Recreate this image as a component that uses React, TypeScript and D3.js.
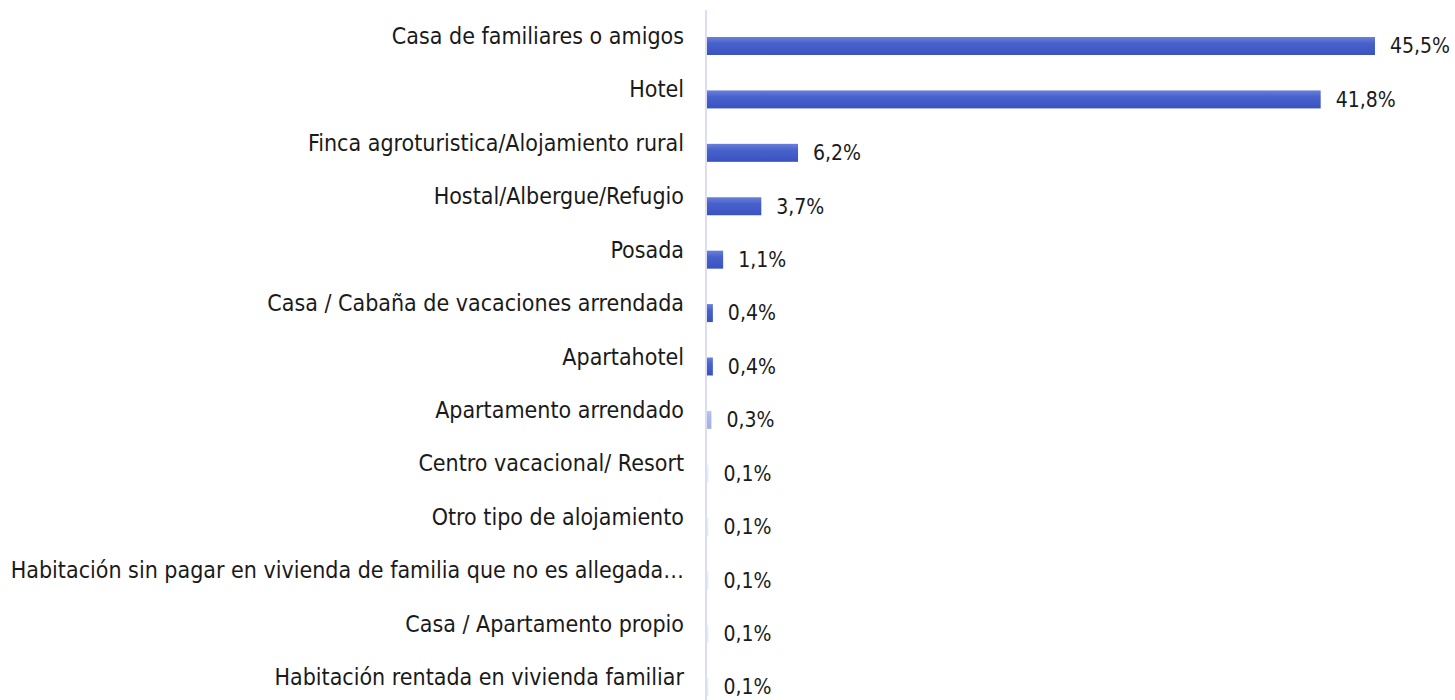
import * as d3 from "d3";
import React, { useRef, useEffect } from "react";

const categories = [
  "Casa de familiares o amigos",
  "Hotel",
  "Finca agroturistica/Alojamiento rural",
  "Hostal/Albergue/Refugio",
  "Posada",
  "Casa / Cabaña de vacaciones arrendada",
  "Apartahotel",
  "Apartamento arrendado",
  "Centro vacacional/ Resort",
  "Otro tipo de alojamiento",
  "Habitación sin pagar en vivienda de familia que no es allegada…",
  "Casa / Apartamento propio",
  "Habitación rentada en vivienda familiar",
];
const values = [45.5, 41.8, 6.2, 3.7, 1.1, 0.4, 0.4, 0.3, 0.1, 0.1, 0.1, 0.1, 0.1];
const valueLabels = values.map((v) => v.toFixed(1).replace(".", ",") + "%");

export default function App() {
  const svgRef = useRef<SVGSVGElement>(null);

  useEffect(() => {
    const width = 1455;
    const height = 700;
    const x0 = 707;
    const font = "'DejaVu Sans Condensed', 'DejaVu Sans', sans-serif";

    const xScale = d3.scaleLinear().domain([0, 45.5]).range([x0, 1375]);
    const yScale = d3.scalePoint<string>().domain(categories).range([46, 687]);
    const barH = 18;

    const svg = d3.select(svgRef.current).attr("width", width).attr("height", height);
    svg.selectAll("*").remove();

    const defs = svg.append("defs");
    const grad = defs
      .append("linearGradient")
      .attr("id", "barGrad")
      .attr("x1", 0)
      .attr("y1", 0)
      .attr("x2", 0)
      .attr("y2", 1);
    grad.append("stop").attr("offset", "0%").attr("stop-color", "#6a80da");
    grad.append("stop").attr("offset", "35%").attr("stop-color", "#4862cc");
    grad.append("stop").attr("offset", "100%").attr("stop-color", "#3a52c0");

    svg
      .append("line")
      .attr("x1", 706)
      .attr("x2", 706)
      .attr("y1", 10)
      .attr("y2", height)
      .attr("stroke", "#cfd3ee")
      .attr("stroke-width", 1.5);

    // very thin bars render faint in the original
    const barOpacity = (v: number) => (v < 0.2 ? 0.12 : v < 0.35 ? 0.45 : 1);

    svg
      .selectAll("rect.bar")
      .data(values)
      .enter()
      .append("rect")
      .attr("class", "bar")
      .attr("x", x0)
      .attr("y", (d, i) => (yScale(categories[i]) as number) - barH / 2)
      .attr("width", (d) => xScale(d) - x0)
      .attr("height", barH)
      .attr("fill", "url(#barGrad)")
      .attr("fill-opacity", (d) => barOpacity(d));

    svg
      .selectAll("text.cat")
      .data(categories)
      .enter()
      .append("text")
      .attr("class", "cat")
      .attr("x", 684)
      .attr("y", (d) => (yScale(d) as number) - 10)
      .attr("dy", "0.35em")
      .attr("text-anchor", "end")
      .attr("font-family", font)
      .attr("font-size", 23)
      .attr("fill", "#1a1a1a")
      .text((d) => d);

    svg
      .selectAll("text.val")
      .data(values)
      .enter()
      .append("text")
      .attr("class", "val")
      .attr("x", (d) => xScale(d) + 15)
      .attr("y", (d, i) => yScale(categories[i]) as number)
      .attr("dy", "0.35em")
      .attr("font-family", font)
      .attr("font-size", 21)
      .attr("fill", "#1a1a1a")
      .text((d, i) => valueLabels[i]);
  }, []);

  return (
    <div style={{ position: "absolute", left: 0, top: 0 }}>
      <svg ref={svgRef}></svg>
    </div>
  );
}
